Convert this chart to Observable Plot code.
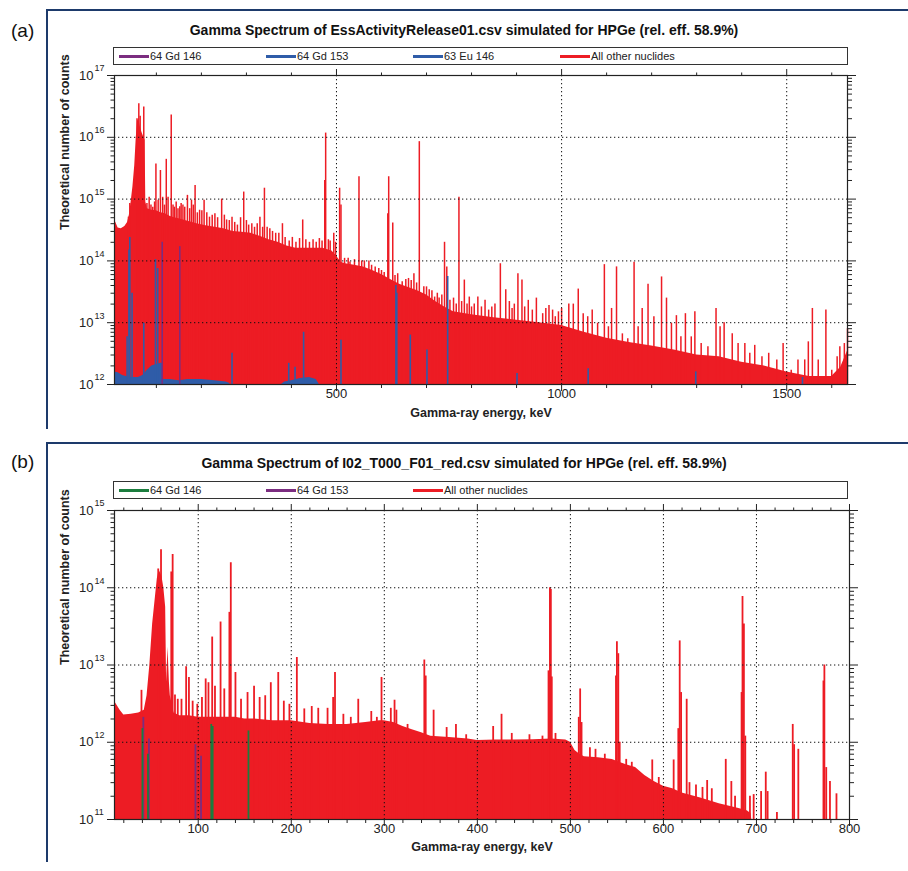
<!DOCTYPE html>
<html>
<head>
<meta charset="utf-8">
<script src="https://cdn.jsdelivr.net/npm/d3@7"></script>
<script src="https://cdn.jsdelivr.net/npm/@observablehq/plot@0.6"></script>
<style>
  body { margin: 0; background: #fff; font-family: "Liberation Sans", Arial, sans-serif; }
  #page { position: relative; width: 908px; height: 871px; overflow: hidden; background: #fff; }
  .abs { position: absolute; }
  .title { font-weight: bold; font-size: 14px; line-height: 16px; color: #111; white-space: nowrap; transform: translateX(-50%); }
  .tag { font-size: 19px; line-height: 20px; color: #111; }
  .legend { border: 1px solid #333; box-sizing: border-box; background: #fff; }
  .lg-item { position: absolute; top: 0; height: 100%; display: flex; align-items: center; font-size: 11px; color: #222; white-space: nowrap; }
  .lg-swatch { width: 30px; height: 3px; margin-right: 1px; }
  .edge { background: #1d3a6b; }
  .plot { position: absolute; left: 0; }
</style>
</head>
<body>
<div id="page"></div>
<script>
// ---------- colours ----------
const RED = "#ed1c24", BLUE = "#2f5ca8", PURPLE = "#7b2d80", GREEN = "#1b7d3e";

// ---------- panel (a): EssActivityRelease01.csv ----------
const aTitle = "Gamma Spectrum of EssActivityRelease01.csv simulated for HPGe (rel. eff. 58.9%)";
const aLegend = ["64 Gd 146", "64 Gd 153", "63 Eu 146", "All other nuclides"];
const aXLabels = [500, 1000, 1500];
const aXMinor = [100, 200, 300, 400, 600, 700, 800, 900, 1100, 1200, 1300, 1400, 1600];
const aDecades = [1e12, 1e13, 1e14, 1e15, 1e16, 1e17];

// all other nuclides: continuum [keV, counts]
const aContinuum = [[7,4.5e14],[10,4.2e14],[15,3.4e14],[22,3.3e14],[30,3.6e14],[36,4.2e14],[40,5.5e14],[44,9e14],[48,1.6e15],[52,3.5e15],[55,9e15],[58,1.8e16],[61,2e16],[64,1.5e16],[68,1.2e16],[72,1e16],[75,9e15],[76.5,9e14],[80,7e14],[90,6.6e14],[100,6.5e14],[110,6e14],[120,5.8e14],[130,5.3e14],[140,5e14],[150,4.8e14],[170,4.4e14],[190,4e14],[210,3.7e14],[230,3.5e14],[250,3.3e14],[270,3e14],[290,2.9e14],[310,2.8e14],[330,2.5e14],[350,2.2e14],[370,2e14],[390,1.75e14],[410,1.6e14],[430,1.6e14],[450,1.6e14],[470,1.6e14],[490,1.45e14],[500,1.2e14],[510,9.5e13],[520,9e13],[540,8.5e13],[560,8e13],[580,7e13],[600,6e13],[620,5e13],[640,4.2e13],[660,3.7e13],[680,3.3e13],[700,2.8e13],[720,2.2e13],[740,1.8e13],[760,1.5e13],[800,1.35e13],[850,1.2e13],[900,1.1e13],[950,1e13],[1000,9e12],[1050,7e12],[1100,5.6e12],[1150,4.8e12],[1200,4.2e12],[1250,3.6e12],[1300,3e12],[1350,2.8e12],[1400,2.3e12],[1450,2e12],[1500,1.6e12],[1550,1.35e12],[1600,1.35e12],[1620,1.9e12],[1635,3.5e12]];

// all other nuclides: lines [keV, counts]
const aPeaks = [[38,5.1e14],[41,8.5e14],[57,2e16],[61,3.5e16],[64,2.2e16],[72,3.1e16],[79,8.5e14],[84,1.07e15],[88,8e14],[92,7.4e14],[96,9e14],[99,3.7e15],[104,9.6e14],[109,2.9e15],[114,1.07e15],[118,8e14],[122,4.4e15],[126,1.07e15],[133,2.3e16],[137,8e14],[140,7.4e14],[144,9e14],[148,7e14],[152,7.5e14],[155,8.5e14],[159,8e14],[163,7.4e14],[169,1.15e15],[174,7e14],[178,9.6e14],[182,8e14],[186,1.66e15],[191,6e14],[196,6.6e14],[201,6.5e14],[206,9.6e14],[212,6e14],[218,5.1e14],[224,5.5e14],[230,5.8e14],[236,5e14],[245,1e15],[251,5.5e14],[256,4.6e14],[262,4.5e14],[268,5.1e14],[274,4.2e14],[280,3.8e14],[287,5e14],[294,1.3e15],[300,4.5e14],[305,3.8e14],[312,4e14],[318,3.5e14],[324,4e14],[330,5.1e14],[336,3.5e14],[340,1.5e15],[346,3.5e14],[352,3.3e14],[358,3e14],[365,2.8e14],[372,2.8e14],[380,4e14],[386,2.4e14],[395,2.1e14],[402,2.4e14],[410,2e14],[418,2.3e14],[425,4.6e14],[432,2.2e14],[440,2e14],[448,2.2e14],[455,2e14],[462,2.3e14],[468,2.1e14],[474,2e15],[476,1.17e16],[482,2.2e14],[486,2.1e14],[494,2.8e14],[498,2e14],[507,1.5e15],[510,8e14],[518,1.1e14],[526,1.1e14],[530,9.6e13],[540,1.05e14],[550,2.3e15],[556,1e14],[562,1e14],[572,1e14],[578,8.5e13],[586,8e13],[594,7.5e13],[600,7e13],[606,6.5e13],[614,5.8e14],[616,2.3e15],[625,4.1e14],[630,5.8e13],[636,6.2e13],[646,4.6e13],[654,5e13],[660,5.2e13],[666,4.8e13],[672,6.2e13],[678,4.4e13],[684,8.5e15],[694,3.8e13],[700,3.8e13],[706,3.4e13],[712,3.3e13],[718,2.6e13],[724,3e13],[728,2.5e13],[734,2.8e13],[740,2e14],[745,8e13],[752,2.3e13],[760,2.5e13],[766,2e13],[772,1.07e15],[778,2.2e13],[784,4.9e13],[790,2e13],[795,2.6e13],[800,1.8e13],[806,2e13],[814,2.6e13],[822,1.8e13],[830,2.3e13],[838,1.6e13],[845,1.8e13],[852,2e13],[864,9e13],[876,3.4e13],[884,2.2e13],[890,1.7e13],[895,2e13],[903,6.2e13],[912,4.9e13],[918,1.8e13],[926,2.3e13],[935,1.6e13],[944,2.5e13],[958,1.4e13],[965,1.7e13],[972,1.9e13],[980,1.6e13],[986,1.25e13],[993,1.5e13],[1000,1.7e13],[1016,2e13],[1026,2e13],[1037,3.5e13],[1048,1.4e13],[1058,1.25e13],[1068,1.6e13],[1080,9.8e12],[1095,8.7e13],[1104,8.6e12],[1111,1.7e13],[1122,8e13],[1135,6.6e12],[1147,5.5e12],[1161,9.5e13],[1170,8.6e12],[1179,1.7e13],[1192,4.2e13],[1205,1.25e13],[1222,5.5e13],[1233,2.5e13],[1244,9.8e12],[1255,1.3e13],[1265,5.9e12],[1275,1.4e13],[1288,5.9e12],[1296,1.5e13],[1310,4.6e12],[1325,4.1e12],[1343,1.7e13],[1352,8.6e12],[1361,1e13],[1379,6.6e12],[1392,4.6e12],[1407,4.6e12],[1418,3.2e12],[1429,4.3e12],[1445,2.8e12],[1460,3.2e12],[1478,2.5e12],[1492,4.6e12],[1510,1.7e12],[1525,2.5e12],[1540,2.5e12],[1548,4.9e12],[1557,1.7e13],[1570,2.5e12],[1587,1.6e13],[1600,1.7e12],[1612,2.8e12],[1618,4.1e12],[1628,4.6e12],[1635,8e12]];

// 64 Gd 153: low-energy continuum and lines
const aGd153Base = [[7,1.6e12],[15,1.55e12],[25,1.4e12],[33,1.35e12],[40,1.3e12],[50,1.3e12],[60,1.3e12],[70,1.4e12],[80,1.7e12],[90,2e12],[100,2.1e12],[110,2.2e12],[114,2.2e12],[116,1.2e12],[130,1.2e12],[150,1.15e12],[170,1.2e12],[200,1.2e12],[230,1.15e12],[255,1.1e12],[262,1.05e12],[264,1e12]];
const aGd153Peaks = [[35,5.9e12],[39,1.5e14],[41,2.4e14],[46,3e13],[72,9.8e12],[98,1.05e14],[103,7.5e13]];
// 63 Eu 146: continuum patch and lines
const aEu146Base = [[378,1e12],[385,1.1e12],[400,1.15e12],[420,1.25e12],[440,1.3e12],[455,1.2e12],[462,1e12]];
const aEu146Peaks = [[268,3.2e12],[394,2.2e12],[408,1.9e12],[427,7e12],[510,5.2e12],[632,4e13],[634,3e13],[664,6.3e12],[701,3.6e12],[747,5.6e13],[901,1.5e12],[1059,1.8e12],[1298,1.6e12],[1535,1.3e12]];
// 64 Gd 146: lines
const aGd146Peaks = [[113,2e14],[152,1.7e14]];

// ---------- panel (b): I02_T000_F01_red.csv ----------
const bTitle = "Gamma Spectrum of I02_T000_F01_red.csv simulated for HPGe (rel. eff. 58.9%)";
const bLegend = ["64 Gd 146", "64 Gd 153", "All other nuclides"];
const bXLabels = [100, 200, 300, 400, 500, 600, 700, 800];
const bXMinor = [20,40,60,80,120,140,160,180,220,240,260,280,320,340,360,380,420,440,460,480,520,540,560,580,620,640,660,680,720,740,760,780];
const bDecades = [1e11, 1e12, 1e13, 1e14, 1e15];

const bContinuum = [[10,3.4e12],[12,3.1e12],[16,2.6e12],[20,2.25e12],[28,2.3e12],[36,2.4e12],[42,2.6e12],[45,4e12],[48,1e13],[51,3.4e13],[54,7.6e13],[56,1.3e14],[58,1.7e14],[61,1.4e14],[63,1e14],[65,5.6e13],[66,6e12],[67.5,1.7e13],[69,6e12],[70,4e12],[74,2.4e12],[80,2.2e12],[90,2.2e12],[100,2.1e12],[120,2.1e12],[140,2.1e12],[150,2e12],[160,2e12],[180,1.9e12],[200,1.9e12],[220,1.75e12],[240,1.7e12],[260,1.7e12],[280,1.8e12],[295,1.9e12],[300,1.9e12],[310,1.8e12],[320,1.6e12],[330,1.45e12],[340,1.33e12],[350,1.2e12],[370,1.15e12],[390,1.1e12],[400,1.05e12],[420,1.07e12],[440,1.07e12],[460,1.08e12],[480,1.1e12],[495,1.07e12],[500,1e12],[505,7.8e11],[510,7e11],[515,6.5e11],[530,6.3e11],[545,6e11],[560,5.1e11],[570,4.7e11],[580,3.7e11],[590,3.1e11],[600,2.7e11],[610,2.5e11],[620,2.2e11],[640,1.9e11],[660,1.6e11],[680,1.4e11],[690,1.3e11],[694,1.2e11],[695,1e11]];

const bPeaks = [[39,4.7e12],[57,1.75e14],[60,3.1e14],[71,1.6e14],[72.5,2.7e14],[75,4.1e12],[78,3.6e12],[82,3.6e12],[87,9.5e12],[90,6.9e12],[94,3.4e12],[99,3.1e12],[104,3.8e12],[108,6.6e12],[111,5.9e12],[115,2.3e13],[118,5.3e12],[124,3.6e13],[128,4.9e12],[133.5,4.8e13],[135,2.1e14],[140,8e12],[146,3.6e12],[153,4.4e12],[160,5.3e12],[166,3.8e12],[172,4e12],[178,5.9e12],[186,8e12],[192,3.4e12],[198,3.1e12],[206,1.25e13],[214,2.7e12],[222,2.9e12],[229,2.75e12],[239,2.75e12],[245,3.8e12],[247,8e12],[256,2.3e12],[264,2.1e12],[272,3.6e12],[286,2.5e12],[292,2.1e12],[297,6.9e12],[307,2.75e12],[311,3.5e12],[313,2.6e12],[325,1.7e12],[343,1.16e13],[344.5,7.2e12],[353,2.6e12],[367,1.55e12],[377,1.7e12],[388,1.25e12],[417,1.6e12],[426,2.3e12],[437,1.3e12],[456,1.25e12],[470,1.2e12],[476.5,8.4e12],[478,1e14],[479,9.5e13],[480,7e12],[484,1.3e12],[509,2.1e12],[510.5,4.9e12],[512,1.8e12],[521,8.5e11],[527,8.1e11],[537,7e11],[549,7.2e12],[550,2e13],[551.5,1.4e13],[553,1e12],[560,6e11],[566,5.5e11],[588,5.9e11],[595,3.5e11],[611,5.9e11],[616,1.5e12],[617.5,2.05e13],[619,4.4e12],[625,3.6e12],[628,3e11],[635,2.8e11],[642,2.6e11],[647,3.2e11],[652,2.5e11],[667,6e11],[673,3.1e11],[677,2e11],[684,4.4e12],[685,7.7e13],[686.5,3.4e13],[688,1.2e12],[693,2e11],[697,2.1e11],[705,2.3e11],[710,4.1e11],[712,2.3e11],[722,1.23e11],[739,1.7e12],[740.5,9.3e11],[745,8.1e11],[772,6.2e12],[773,1e13],[775,4.7e11],[779,3.1e11],[786,2.15e11]];

const bGd153Peaks = [[41,2.1e12],[47,1.1e12],[97,9.3e11],[103,6.6e11]];
const bGd146Peaks = [[40,1.5e12],[46,7e11],[114,1.7e12],[115.5,1.6e12],[154,1.4e12]];

// ---------- drawing ----------
const page = document.getElementById("page");

function el(tag, cls, style, text) {
  const e = document.createElement(tag);
  if (cls) e.className = cls;
  Object.assign(e.style, style);
  if (text != null) e.textContent = text;
  page.appendChild(e);
  return e;
}

function spectrumPanel(cfg) {
  const yMin = cfg.yDomain[0];
  const minorY = cfg.decades.slice(0, -1).flatMap(d => [2, 3, 4, 5, 6, 7, 8, 9].map(k => k * d));
  const gridStyle = {stroke: "#111", strokeWidth: 1, strokeDasharray: "1.3,2.7"};
  const px = d => d[0], py = d => d[1];
  const marks = [
    Plot.areaY(cfg.continuum, {x: px, y1: yMin, y2: py, fill: RED}),
    Plot.ruleX(cfg.peaks, {x: px, y1: yMin, y2: py, stroke: RED, strokeWidth: cfg.peakWidth})
  ];
  for (const s of cfg.overlays) {
    if (s.base) marks.push(Plot.areaY(s.base, {x: px, y1: yMin, y2: py, fill: s.color}));
    if (s.peaks) marks.push(Plot.ruleX(s.peaks, {x: px, y1: yMin, y2: py, stroke: s.color, strokeWidth: cfg.overlayWidth}));
  }
  marks.push(
    Plot.ruleX(cfg.gridX, gridStyle),
    Plot.ruleY(cfg.decades.slice(1, -1), gridStyle),
    Plot.frame({stroke: "#222", strokeWidth: 1.2}),
    // tick marks on all four sides
    Plot.axisX({anchor: "top", ticks: cfg.xMinor, tickSize: 3.5, tickFormat: () => "", label: null, stroke: "#222"}),
    Plot.axisX({anchor: "top", ticks: cfg.xMajor, tickSize: 7, tickFormat: () => "", label: null, stroke: "#222"}),
    Plot.axisX({anchor: "bottom", ticks: cfg.xMinor, tickSize: 4, tickFormat: () => "", label: null, stroke: "#222"}),
    Plot.axisX({anchor: "bottom", ticks: cfg.xMajor, tickSize: 7, tickFormat: () => "", label: null, stroke: "#222"}),
    Plot.axisY({anchor: "left", ticks: minorY, tickSize: 3.5, tickFormat: () => "", label: null, stroke: "#222"}),
    Plot.axisY({anchor: "left", ticks: cfg.decades, tickSize: 7, tickFormat: () => "", label: null, stroke: "#222"}),
    Plot.axisY({anchor: "right", ticks: minorY, tickSize: 4, tickFormat: () => "", label: null, stroke: "#222"}),
    Plot.axisY({anchor: "right", ticks: cfg.decades, tickSize: 8, tickFormat: () => "", label: null, stroke: "#222"}),
    // tick labels
    Plot.text(cfg.xLabels, {x: d => d, frameAnchor: "bottom", dy: 13, text: d => String(d), fontSize: 13, fill: "#222"}),
    Plot.text(cfg.decades, {y: d => d, frameAnchor: "left", dx: -cfg.labelGap, text: () => "10", textAnchor: "end", fontSize: 13, fill: "#222"}),
    Plot.text(cfg.decades, {y: d => d, frameAnchor: "left", dx: -cfg.labelGap + 1, dy: -7, text: d => String(Math.round(Math.log10(d))), textAnchor: "start", fontSize: 9, fill: "#222"}),
    // axis titles
    Plot.text(["Gamma-ray energy, keV"], {frameAnchor: "bottom", dy: cfg.xTitleDy, fontSize: 12.5, fontWeight: "bold", fill: "#222"}),
    Plot.text(["Theoretical number of counts"], {frameAnchor: "left", dx: cfg.yTitleDx, rotate: -90, fontSize: 12.5, fontWeight: "bold", fill: "#222"})
  );
  const svg = Plot.plot({
    width: 908,
    height: cfg.height,
    marginLeft: cfg.margin[3], marginRight: cfg.margin[1], marginTop: cfg.margin[0], marginBottom: cfg.margin[2],
    x: {type: "linear", domain: cfg.xDomain},
    y: {type: "log", domain: cfg.yDomain},
    style: {fontFamily: "'Liberation Sans', Arial, sans-serif", background: "transparent", overflow: "visible"},
    marks
  });
  svg.classList.add("plot");
  svg.style.top = cfg.top + "px";
  page.appendChild(svg);
}

function legend(top, items) {
  const box = el("div", "abs legend", {left: "113px", top: top + "px", width: "735px", height: "18px"});
  items.forEach((it, i) => {
    const item = document.createElement("div");
    item.className = "lg-item";
    item.style.left = (5 + i * 147) + "px";
    const sw = document.createElement("div");
    sw.className = "lg-swatch";
    sw.style.background = it.color;
    item.appendChild(sw);
    item.appendChild(document.createTextNode(it.label));
    box.appendChild(item);
  });
}

// panel (a)
spectrumPanel({
  top: 40, height: 395, margin: [35, 61, 51, 114],
  xDomain: [7, 1635], yDomain: [1e12, 1e17],
  xMajor: aXLabels, xMinor: aXMinor, xLabels: aXLabels, gridX: aXLabels,
  decades: aDecades,
  continuum: aContinuum, peaks: aPeaks, peakWidth: 1.5, overlayWidth: 1.6,
  overlays: [
    {base: aGd153Base, peaks: aGd153Peaks, color: BLUE},
    {base: aEu146Base, peaks: aEu146Peaks, color: BLUE},
    {peaks: aGd146Peaks, color: PURPLE}
  ],
  labelGap: 21, xTitleDy: 32, yTitleDx: -50
});

// panel (b)
spectrumPanel({
  top: 500, height: 371, margin: [10, 59, 52, 114],
  xDomain: [10, 800], yDomain: [1e11, 1e15],
  xMajor: bXLabels, xMinor: bXMinor, xLabels: bXLabels, gridX: bXLabels.slice(0, -1),
  decades: bDecades,
  continuum: bContinuum, peaks: bPeaks, peakWidth: 1.8, overlayWidth: 1.8,
  overlays: [
    {peaks: bGd153Peaks, color: PURPLE},
    {peaks: bGd146Peaks, color: GREEN}
  ],
  labelGap: 21, xTitleDy: 31, yTitleDx: -50
});

// figure frames, tags, titles and legends
el("div", "abs edge", {left: "46px", top: "9px", width: "862px", height: "2px"});
el("div", "abs edge", {left: "46px", top: "9px", width: "1.5px", height: "420px"});
el("div", "abs edge", {left: "46px", top: "442px", width: "862px", height: "2px"});
el("div", "abs edge", {left: "46px", top: "442px", width: "1.5px", height: "420px"});

el("div", "abs tag", {left: "11px", top: "21px"}, "(a)");
el("div", "abs tag", {left: "11px", top: "452px"}, "(b)");
el("div", "abs title", {left: "464px", top: "22px"}, aTitle);
el("div", "abs title", {left: "464px", top: "455px"}, bTitle);

legend(47, [
  {label: aLegend[0], color: PURPLE},
  {label: aLegend[1], color: BLUE},
  {label: aLegend[2], color: BLUE},
  {label: aLegend[3], color: RED}
]);
legend(481, [
  {label: bLegend[0], color: GREEN},
  {label: bLegend[1], color: PURPLE},
  {label: bLegend[2], color: RED}
]);
</script>
</body>
</html>
